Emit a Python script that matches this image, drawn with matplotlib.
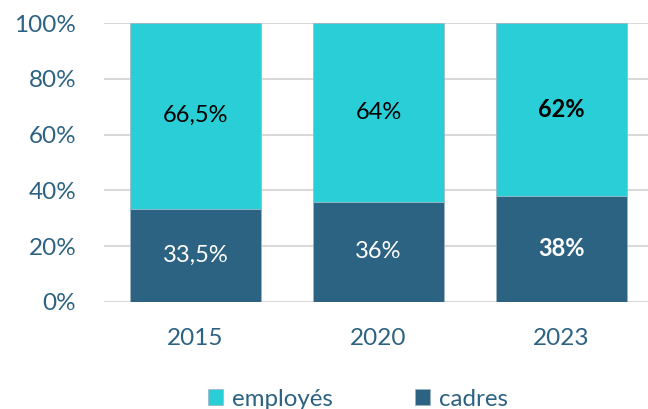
import matplotlib
matplotlib.use("Agg")
import matplotlib.pyplot as plt
import numpy as np

years = ["2015", "2020", "2023"]
cadres = [33.5, 36, 38]
employes = [66.5, 64, 62]
cadres_labels = ["33,5%", "36%", "38%"]
employes_labels = ["66,5%", "64%", "62%"]
bold_flags = [False, False, True]
yticks = [0, 20, 40, 60, 80, 100]

C_DARK = "#2C6282"
C_CYAN = "#29CED6"
C_TEXT = "#2C6282"

plt.rcParams['font.family'] = ['Lato', 'DejaVu Sans']

fig = plt.figure(figsize=(6.48, 4.09), dpi=100)
ax = fig.add_axes([104/648, (409-302)/409, 549/648, 279/409])

x = np.arange(len(years))
w = 0.716
ax.bar(x, cadres, width=w, color=C_DARK, edgecolor="#9FB3C2", linewidth=0.5, zorder=3, label="cadres")
ax.bar(x, employes, width=w, bottom=cadres, color=C_CYAN, edgecolor="#9FB3C2", linewidth=0.5, zorder=3, label="employés")

for i in range(len(years)):
    fw = "bold" if bold_flags[i] else "normal"
    ax.text(x[i], cadres[i] / 2, cadres_labels[i], ha="center", va="center",
            color="white", fontsize=17, fontweight=fw, zorder=4)
    ax.text(x[i], cadres[i] + employes[i] / 2, employes_labels[i], ha="center", va="center",
            color="black", fontsize=17, fontweight=fw, zorder=4)

ax.set_xlim(-0.5, 2.5)
ax.set_ylim(0, 100)
ax.set_yticks(yticks)
ax.set_yticklabels([f"{v}%" for v in yticks])
ax.set_xticks(x)
ax.set_xticklabels(years)
ax.tick_params(axis="both", length=0, labelsize=17.5, colors=C_TEXT)
ax.tick_params(axis="y", pad=20)
ax.tick_params(axis="x", pad=19)
ax.yaxis.grid(True, color="#D9D9D9", linewidth=1.5, zorder=0)
for s in ax.spines.values():
    s.set_visible(False)

handles, labels = ax.get_legend_handles_labels()
leg = fig.legend([handles[1], handles[0]], [labels[1], labels[0]], loc="center",
                 bbox_to_anchor=(358/648, 1 - 399/409), ncol=2, frameon=False,
                 fontsize=17.4, handlelength=0.62, handleheight=0.62,
                 handletextpad=0.37, columnspacing=3.4, borderpad=0)
for t in leg.get_texts():
    t.set_color(C_TEXT)

fig.savefig("out.png", dpi=100)
